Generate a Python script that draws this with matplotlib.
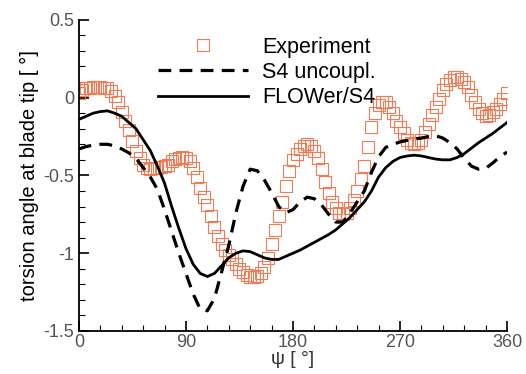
import matplotlib
matplotlib.use('Agg')
import matplotlib.pyplot as plt
import numpy as np
from matplotlib.ticker import MultipleLocator, FuncFormatter

plt.rcParams['font.family'] = ['Liberation Sans', 'DejaVu Sans']

# experiment, one value every 3 deg
psi_exp = np.arange(0, 361, 3)
experiment = [0.03, 0.05, 0.06, 0.065, 0.07, 0.07, 0.07, 0.065, 0.06, 0.04,
              0.01, -0.03, -0.09, -0.15, -0.21, -0.28, -0.34, -0.39, -0.43, -0.45,
              -0.46, -0.455, -0.45, -0.445, -0.44, -0.43, -0.41, -0.395, -0.385, -0.38,
              -0.385, -0.41, -0.45, -0.51, -0.58, -0.64, -0.69, -0.76, -0.83, -0.89,
              -0.94, -0.98, -1.01, -1.04, -1.07, -1.10, -1.12, -1.14, -1.15, -1.15,
              -1.145, -1.13, -1.09, -1.03, -0.94, -0.85, -0.76, -0.67, -0.57, -0.47,
              -0.40, -0.36, -0.33, -0.31, -0.30, -0.31, -0.34, -0.39, -0.46, -0.54,
              -0.61, -0.67, -0.71, -0.74, -0.75, -0.74, -0.71, -0.66, -0.60, -0.52,
              -0.44, -0.32, -0.19, -0.10, -0.05, -0.03, -0.03, -0.06, -0.10, -0.15,
              -0.19, -0.23, -0.27, -0.29, -0.30, -0.29, -0.27, -0.22, -0.17, -0.11,
              -0.06, -0.01, 0.05, 0.09, 0.11, 0.13, 0.13, 0.12, 0.10, 0.07,
              0.02, -0.03, -0.07, -0.10, -0.115, -0.11, -0.09, -0.07, -0.04, -0.01,
              0.03]

# simulations, one value every 6 deg
psi_sim = np.arange(0, 361, 6)
s4_uncoupl = [-0.33, -0.315, -0.305, -0.30, -0.30, -0.31, -0.33, -0.355, -0.39, -0.45,
              -0.51, -0.59, -0.72, -0.86, -1.00, -1.13, -1.26, -1.36, -1.37, -1.29,
              -1.12, -0.95, -0.74, -0.57, -0.46, -0.47, -0.53, -0.61, -0.70, -0.74,
              -0.72, -0.67, -0.64, -0.65, -0.69, -0.75, -0.80, -0.80, -0.74, -0.67,
              -0.60, -0.48, -0.38, -0.32, -0.30, -0.285, -0.275, -0.265, -0.26, -0.25,
              -0.245, -0.26, -0.29, -0.33, -0.39, -0.44, -0.46, -0.455, -0.42, -0.38,
              -0.35]
flower_s4 = [-0.14, -0.12, -0.10, -0.09, -0.085, -0.10, -0.12, -0.16, -0.20, -0.27,
             -0.34, -0.44, -0.55, -0.70, -0.84, -0.97, -1.07, -1.13, -1.15, -1.13,
             -1.08, -1.03, -1.00, -0.985, -0.99, -1.01, -1.03, -1.04, -1.04, -1.02,
             -1.00, -0.98, -0.955, -0.93, -0.905, -0.88, -0.85, -0.81, -0.77, -0.72,
             -0.67, -0.60, -0.51, -0.45, -0.41, -0.385, -0.375, -0.37, -0.375, -0.385,
             -0.395, -0.40, -0.40, -0.385, -0.36, -0.325, -0.29, -0.26, -0.23, -0.195,
             -0.16]

fig = plt.figure(figsize=(5.26, 3.74), dpi=100)
ax = fig.add_axes([0.150, 0.115, 0.814, 0.832])

ax.plot(psi_exp, experiment, linestyle='none', marker='s', markersize=8,
        markerfacecolor='none', markeredgecolor='#f07c55', markeredgewidth=0.8,
        label='Experiment')
ax.plot(psi_sim, s4_uncoupl, color='black', linewidth=2.3, dashes=(4, 2.6),
        label='S4 uncoupl.')
ax.plot(psi_sim, flower_s4, color='black', linewidth=2.0, label='FLOWer/S4')

ax.set_xlim(0, 360)
ax.set_ylim(-1.5, 0.5)
ax.spines['top'].set_visible(False)
ax.spines['right'].set_visible(False)
ax.spines['left'].set_linewidth(1.3)
ax.spines['bottom'].set_linewidth(1.3)

ax.xaxis.set_major_locator(MultipleLocator(90))
ax.xaxis.set_minor_locator(MultipleLocator(18))
ax.yaxis.set_major_locator(MultipleLocator(0.5))
ax.yaxis.set_minor_locator(MultipleLocator(0.1))
ax.yaxis.set_major_formatter(FuncFormatter(lambda v, p: '%g' % v))
ax.tick_params(which='major', direction='in', length=7, width=1.2,
               labelsize=13, labelcolor='#555555')
ax.tick_params(which='minor', direction='in', length=4, width=0.8)
ax.tick_params(axis='x', pad=2)

ax.set_xlabel('ψ [ °]', fontsize=14, labelpad=0, color='#333333')
ax.set_ylabel('torsion angle at blade tip [ °]', fontsize=14.5, labelpad=3)

ax.legend(loc='upper left', bbox_to_anchor=(0.164, 0.974), frameon=False,
          fontsize=15.5, handlelength=4.2, handletextpad=0.65, labelspacing=0.2,
          borderaxespad=0)

plt.savefig('out.png', dpi=100)
